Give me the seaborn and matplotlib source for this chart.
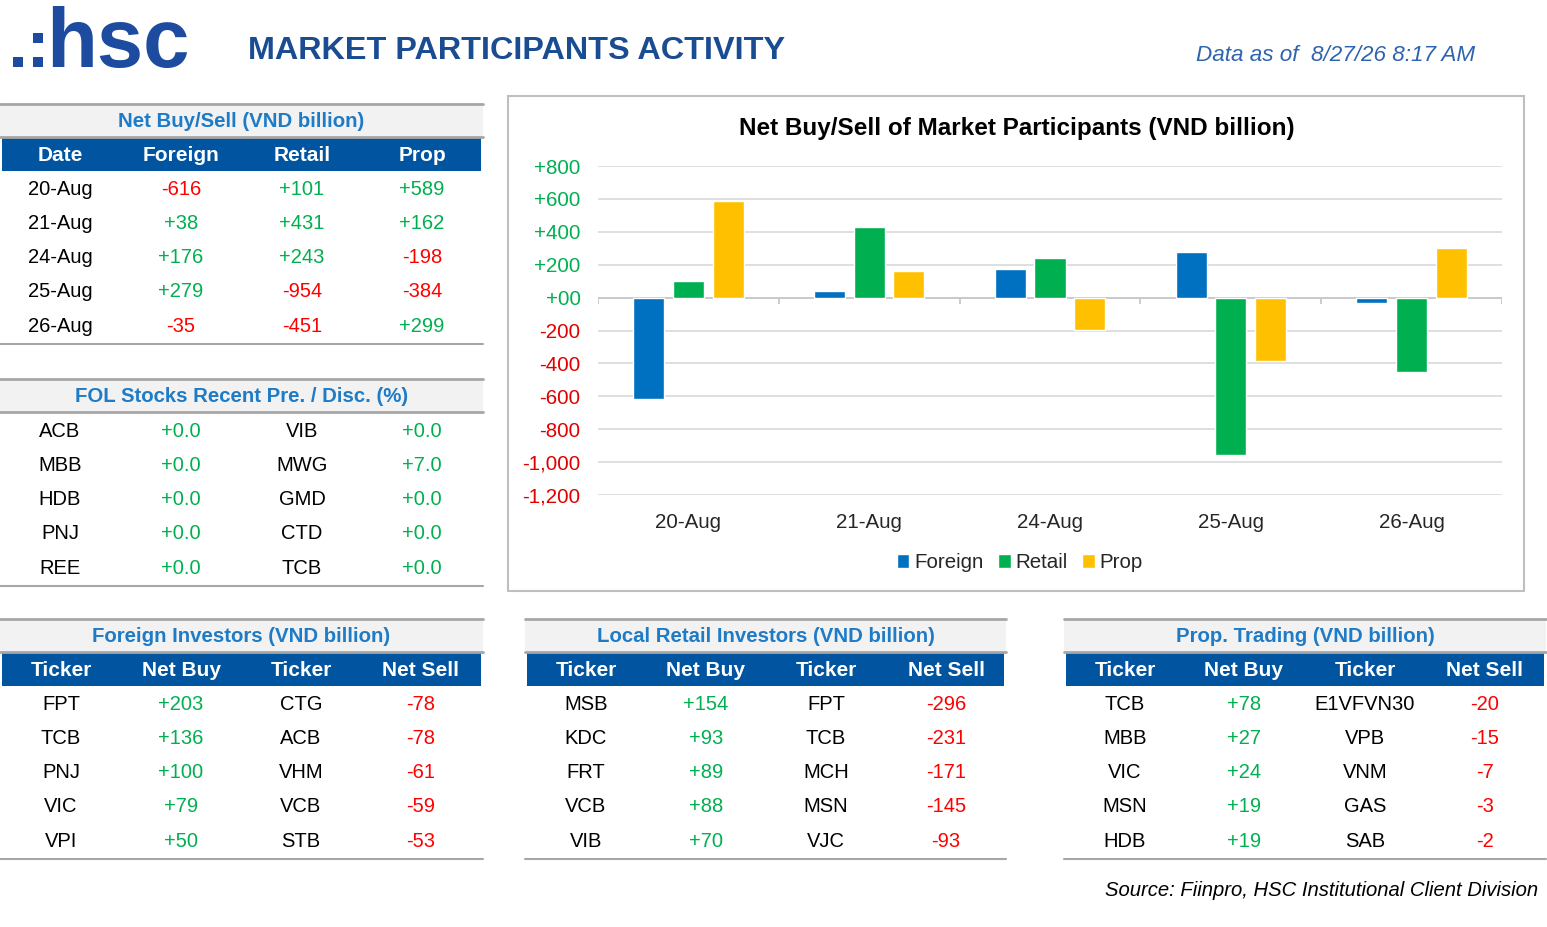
import numpy as np
import pandas as pd
import matplotlib.pyplot as plt
import seaborn as sns
from matplotlib.patches import Rectangle

sns.set_style('white')
plt.rcParams['font.family'] = ['Liberation Sans', 'DejaVu Sans']

# ---- data ----
dates = ['20-Aug', '21-Aug', '24-Aug', '25-Aug', '26-Aug']
foreign = [-616, 38, 176, 279, -35]
retail = [101, 431, 243, -954, -451]
prop = [589, 162, -198, -384, 299]

fol_left = ['ACB', 'MBB', 'HDB', 'PNJ', 'REE']
fol_left_val = [0.0, 0.0, 0.0, 0.0, 0.0]
fol_right = ['VIB', 'MWG', 'GMD', 'CTD', 'TCB']
fol_right_val = [0.0, 7.0, 0.0, 0.0, 0.0]

fr_buy = ['FPT', 'TCB', 'PNJ', 'VIC', 'VPI']
fr_buy_val = [203, 136, 100, 79, 50]
fr_sell = ['CTG', 'ACB', 'VHM', 'VCB', 'STB']
fr_sell_val = [-78, -78, -61, -59, -53]

rt_buy = ['MSB', 'KDC', 'FRT', 'VCB', 'VIB']
rt_buy_val = [154, 93, 89, 88, 70]
rt_sell = ['FPT', 'TCB', 'MCH', 'MSN', 'VJC']
rt_sell_val = [-296, -231, -171, -145, -93]

pr_buy = ['TCB', 'MBB', 'VIC', 'MSN', 'HDB']
pr_buy_val = [78, 27, 24, 19, 19]
pr_sell = ['E1VFVN30', 'VPB', 'VNM', 'GAS', 'SAB']
pr_sell_val = [-20, -15, -7, -3, -2]

GREEN = '#00B050'
RED = '#FF0000'
NAVY = '#0054A0'
TITLE_BLUE = '#1F7BC6'
GRAY_BAND = '#F2F2F2'
GRAY_LINE = '#A6A6A6'

W, H = 1547, 927
fig = plt.figure(figsize=(W / 100, H / 100), dpi=100)
bg = fig.add_axes([0, 0, 1, 1])
bg.set_xlim(0, W)
bg.set_ylim(H, 0)
bg.axis('off')


def num(v, dec=0):
    return f'{v:+.{dec}f}'


def col(v):
    return GREEN if v >= 0 else RED


def section(x0, x1, top, title, header, columns, cols_x):
    bg.add_patch(Rectangle((x0, top), x1 - x0, 33, fc=GRAY_BAND, ec='none'))
    bg.plot([x0, x1], [top, top], color=GRAY_LINE, lw=2)
    bg.plot([x0, x1], [top + 33, top + 33], color=GRAY_LINE, lw=2)
    bg.text((x0 + x1) / 2, top + 17, title, ha='center', va='center',
            fontsize=14.7, weight='bold', color=TITLE_BLUE)
    y = top + 34
    if header:
        bg.add_patch(Rectangle((x0 + 2, y), x1 - x0 - 4, 33, fc=NAVY, ec='none'))
        for cx, h in zip(cols_x, header):
            bg.text(cx, y + 17.5, h, ha='center', va='center', fontsize=15,
                    weight='bold', color='white')
        y += 33
    y += 18
    for i in range(5):
        for cx, (texts, colors) in zip(cols_x, columns):
            bg.text(cx, y + i * 34.3, texts[i], ha='center', va='center',
                    fontsize=14.5, color=colors[i])
    bottom = y + 4 * 34.3 + 18
    bg.plot([x0, x1], [bottom, bottom], color=GRAY_LINE, lw=1.5)


def pair_cols(names, vals, dec=0):
    return [(names, ['black'] * 5), ([num(v, dec) for v in vals], [col(v) for v in vals])]


# logo + header
logo_c = '#1C4BA0'
for (lx, ly) in [(13, 57), (33, 33), (33, 57)]:
    bg.add_patch(Rectangle((lx, ly), 10, 10, fc=logo_c, ec='none'))
bg.text(46, 67, 'hsc', ha='left', va='baseline', fontsize=60, weight='bold',
        color=logo_c)
bg.text(248, 51, 'MARKET PARTICIPANTS ACTIVITY', ha='left', va='center',
        fontsize=23.3, weight='bold', color='#1A4C92')
bg.text(1475, 55, 'Data as of  8/27/26 8:17 AM', ha='right', va='center',
        fontsize=16.2, style='italic', color='#2E64AD')

# table 1
t1_cols = [(dates, ['black'] * 5)]
for s in (foreign, retail, prop):
    t1_cols.append(([num(v) for v in s], [col(v) for v in s]))
section(0, 483, 104, 'Net Buy/Sell (VND billion)', ['Date', 'Foreign', 'Retail', 'Prop'],
        t1_cols, [60, 181, 302, 422])

# table 2
section(0, 483, 379, 'FOL Stocks Recent Pre. / Disc. (%)', None,
        pair_cols(fol_left, fol_left_val, 1) + pair_cols(fol_right, fol_right_val, 1),
        [60, 181, 302, 422])

hdr = ['Ticker', 'Net Buy', 'Ticker', 'Net Sell']
section(0, 483, 619, 'Foreign Investors (VND billion)', hdr,
        pair_cols(fr_buy, fr_buy_val) + pair_cols(fr_sell, fr_sell_val), [61, 181, 301, 421])
section(525, 1006, 619, 'Local Retail Investors (VND billion)', hdr,
        pair_cols(rt_buy, rt_buy_val) + pair_cols(rt_sell, rt_sell_val), [586, 706, 826, 946])
section(1064, 1546, 619, 'Prop. Trading (VND billion)', hdr,
        pair_cols(pr_buy, pr_buy_val) + pair_cols(pr_sell, pr_sell_val), [1125, 1244, 1365, 1485])

bg.text(1538, 891, 'Source: Fiinpro, HSC Institutional Client Division', ha='right',
        va='center', fontsize=14.6, style='italic', color='black')

# chart frame
bg.add_patch(Rectangle((508, 96), 1016, 495, fc='none', ec='#BFBFBF', lw=1.5))
bg.text(1017, 128, 'Net Buy/Sell of Market Participants (VND billion)', ha='center',
        va='center', fontsize=17.5, weight='bold', color='black')

# ---- bar chart ----
df = pd.DataFrame({'Date': dates, 'Foreign': foreign, 'Retail': retail, 'Prop': prop})
df = df.melt(id_vars='Date', var_name='Type', value_name='Value')

ax = fig.add_axes([598 / W, 1 - 495 / H, (1502 - 598) / W, (495 - 166) / H])
ax.patch.set_alpha(0)
sns.barplot(data=df, x='Date', y='Value', hue='Type', ax=ax, saturation=1,
            palette=['#0070C0', '#00B050', '#FFC000'], width=0.66, gap=0.22,
            errorbar=None, legend=True, zorder=3)
ax.set_xlim(-0.5, 4.5)
ax.set_ylim(-1200, 800)
yt = list(range(-1200, 801, 200))
ax.set_yticks(yt)
labels = ['+00' if v == 0 else (f'+{v:,}' if v > 0 else f'{v:,}') for v in yt]
ax.set_yticklabels(labels)
for lab, v in zip(ax.get_yticklabels(), yt):
    lab.set_color(GREEN if v >= 0 else '#E00000')
ax.yaxis.grid(True, color='#D9D9D9', lw=1.2, zorder=0)
ax.set_axisbelow(True)
ax.axhline(0, color='#C8C8C8', lw=1.3, zorder=2)
ax.vlines(np.arange(-0.5, 5), -40, 0, color='#C8C8C8', lw=1.3, zorder=2)
for s in ax.spines.values():
    s.set_visible(False)
ax.tick_params(axis='y', length=0, pad=12.5, labelsize=14.8)
ax.tick_params(axis='x', length=0, pad=13, labelsize=14.8)
ax.set_xlabel(None)
ax.set_ylabel(None)

handles, labs = ax.get_legend_handles_labels()
ax.get_legend().remove()
fig.legend(handles, labs, loc='center', bbox_to_anchor=(1020 / W, 1 - 563 / H), ncol=3,
           frameon=False, fontsize=14.8, handlelength=0.6, handleheight=0.65,
           handletextpad=0.25, columnspacing=0.7)

fig.savefig('out.png', dpi=100)
